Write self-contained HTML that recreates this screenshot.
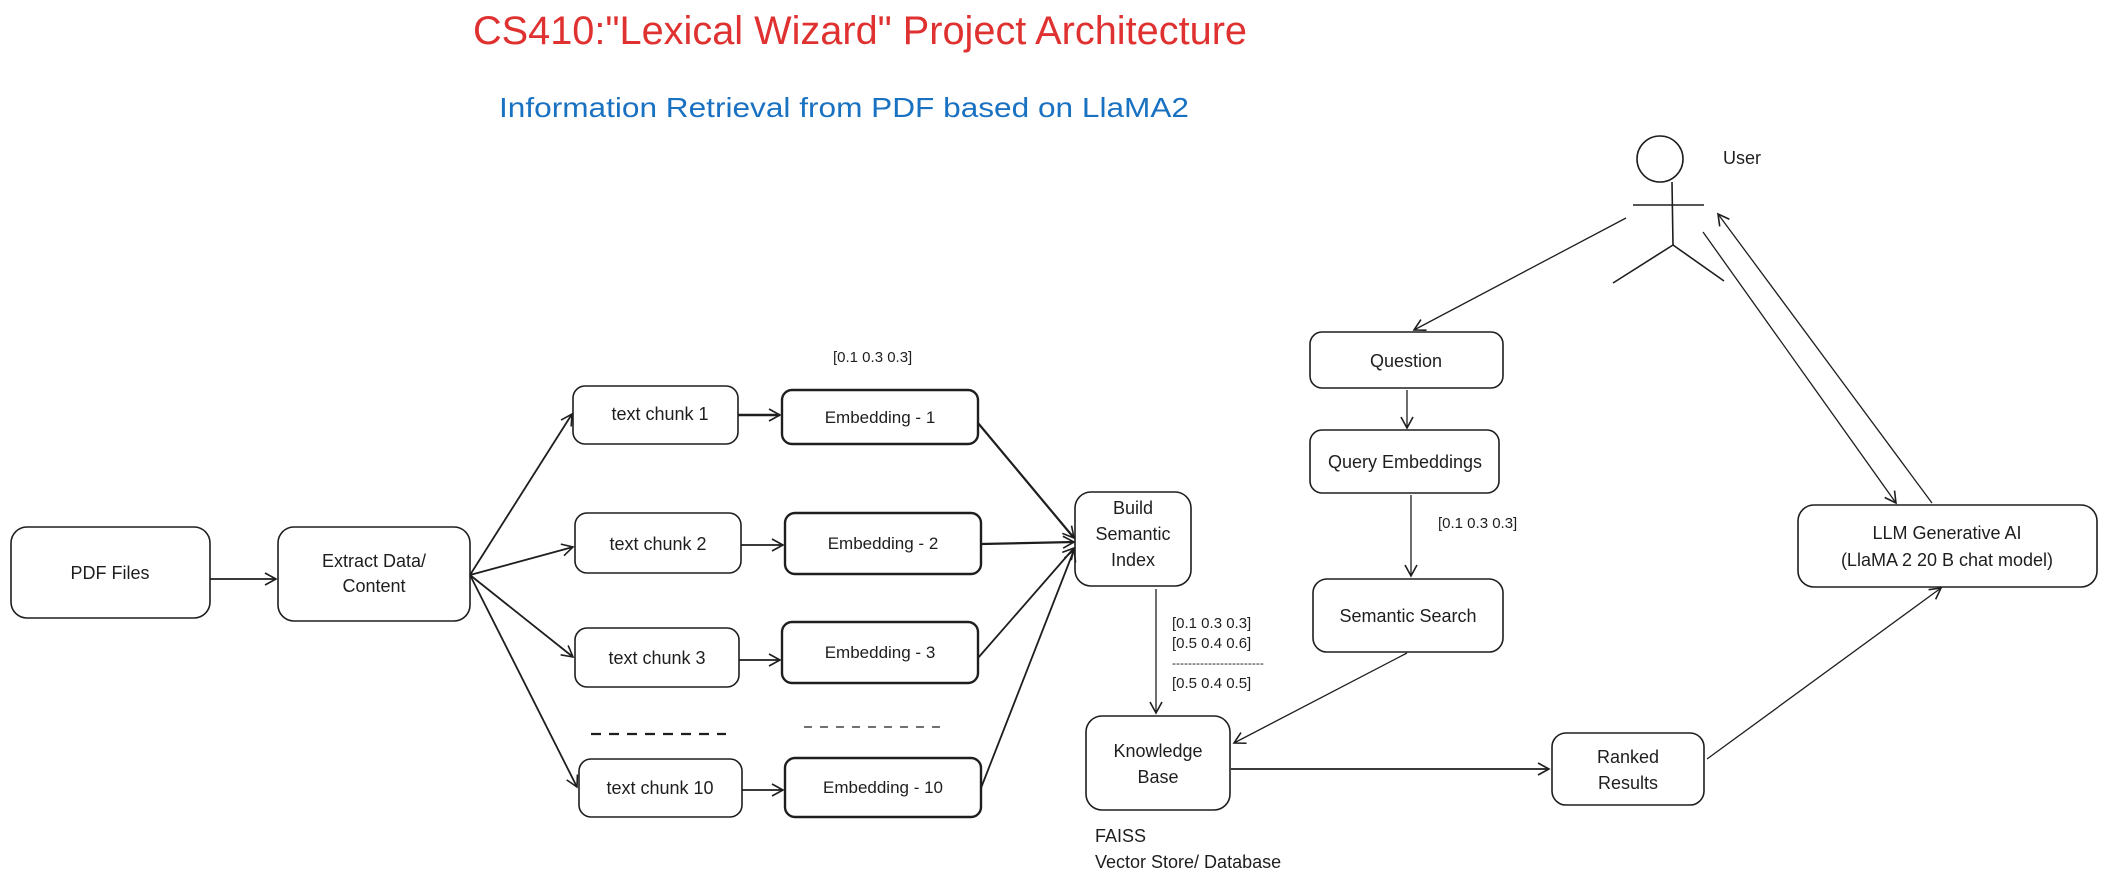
<!DOCTYPE html>
<html><head><meta charset="utf-8"><style>
html,body{margin:0;padding:0;background:#fff;}
svg{display:block;}
text{font-family:"Liberation Sans","DejaVu Sans",sans-serif;fill:#1e1e1e;}
</style></head><body>
<svg width="2108" height="884" viewBox="0 0 2108 884" xmlns="http://www.w3.org/2000/svg">
<defs>
<marker id="a" markerWidth="14" markerHeight="14" refX="12" refY="7" orient="auto" markerUnits="userSpaceOnUse">
<path d="M1,1 L12,7 L1,13" fill="none" stroke="#1e1e1e" stroke-width="1.6"/>
</marker>
</defs>
<text x="860" y="44" font-size="40" text-anchor="middle" textLength="774" lengthAdjust="spacingAndGlyphs" style="fill:#e03131">CS410:"Lexical Wizard" Project Architecture</text>
<text x="844" y="117" font-size="28" text-anchor="middle" textLength="690" lengthAdjust="spacingAndGlyphs" style="fill:#1971c2">Information Retrieval from PDF based on LlaMA2</text>

<g fill="none" stroke="#1e1e1e" stroke-width="1.6">
<rect x="11" y="527" width="199" height="91" rx="16"/>
<rect x="278" y="527" width="192" height="94" rx="16"/>
<rect x="573" y="386" width="165" height="58" rx="12"/>
<rect x="575" y="513" width="166" height="60" rx="12"/>
<rect x="575" y="628" width="164" height="59" rx="12"/>
<rect x="579" y="759" width="163" height="58" rx="12"/>
<g stroke-width="2.4">
<rect x="782" y="390" width="196" height="54" rx="10"/>
<rect x="785" y="513" width="196" height="61" rx="10"/>
<rect x="782" y="622" width="196" height="61" rx="10"/>
<rect x="785" y="758" width="196" height="59" rx="10"/>
</g>
<rect x="1075" y="492" width="116" height="94" rx="16"/>
<rect x="1086" y="716" width="144" height="94" rx="16"/>
<rect x="1310" y="332" width="193" height="56" rx="12"/>
<rect x="1310" y="430" width="189" height="63" rx="12"/>
<rect x="1313" y="579" width="190" height="73" rx="14"/>
<rect x="1552" y="733" width="152" height="72" rx="14"/>
<rect x="1798" y="505" width="299" height="82" rx="16"/>
<circle cx="1660" cy="159" r="23"/>
<line x1="1672" y1="182" x2="1673" y2="245"/>
<line x1="1633" y1="205" x2="1704" y2="205"/>
<line x1="1673" y1="245" x2="1613" y2="283"/>
<line x1="1673" y1="245" x2="1724" y2="281"/>
</g>

<g fill="none" stroke="#1e1e1e" stroke-width="1.8" marker-end="url(#a)">
<line x1="210" y1="579" x2="276" y2="579"/>
<line x1="470" y1="575" x2="572" y2="414"/>
<line x1="470" y1="575" x2="573" y2="547"/>
<line x1="470" y1="575" x2="573" y2="657"/>
<line x1="470" y1="575" x2="577" y2="787"/>
<line x1="738" y1="415" x2="780" y2="415" stroke-width="2.4"/>
<line x1="741" y1="545" x2="783" y2="545"/>
<line x1="739" y1="660" x2="780" y2="660"/>
<line x1="742" y1="790" x2="783" y2="790"/>
<line x1="978" y1="423" x2="1074" y2="538" stroke-width="2.2"/>
<line x1="981" y1="544" x2="1074" y2="542" stroke-width="2.2"/>
<line x1="978" y1="658" x2="1074" y2="548"/>
<line x1="981" y1="788" x2="1074" y2="550"/>
<line x1="1156" y1="589" x2="1156" y2="713" stroke-width="1.3"/>
<line x1="1626" y1="218" x2="1414" y2="330" stroke-width="1.3"/>
<line x1="1407" y1="390" x2="1407" y2="428" stroke-width="1.3"/>
<line x1="1411" y1="495" x2="1411" y2="576" stroke-width="1.3"/>
<line x1="1407" y1="653" x2="1234" y2="743" stroke-width="1.3"/>
<line x1="1231" y1="769" x2="1549" y2="769"/>
<line x1="1707" y1="759" x2="1941" y2="588" stroke-width="1.3"/>
<line x1="1703" y1="232" x2="1896" y2="503" stroke-width="1.3"/>
<line x1="1932" y1="503" x2="1718" y2="214" stroke-width="1.3"/>
</g>
<g stroke="#1e1e1e" stroke-width="2.2" stroke-dasharray="10,8">
<line x1="591" y1="734" x2="726" y2="734"/>
</g>
<g stroke="#1e1e1e" stroke-width="1.2" stroke-dasharray="8,8">
<line x1="804" y1="727" x2="948" y2="727"/>
</g>

<g font-size="18" text-anchor="middle">
<text x="110" y="579">PDF Files</text>
<text x="374" y="567">Extract Data/</text>
<text x="374" y="592">Content</text>
<text x="660" y="420">text chunk 1</text>
<text x="658" y="550">text chunk 2</text>
<text x="657" y="664">text chunk 3</text>
<text x="660" y="794">text chunk 10</text>
<text x="880" y="423" font-size="17">Embedding - 1</text>
<text x="883" y="549" font-size="17">Embedding - 2</text>
<text x="880" y="658" font-size="17">Embedding - 3</text>
<text x="883" y="793" font-size="17">Embedding - 10</text>
<text x="1133" y="514">Build</text>
<text x="1133" y="540">Semantic</text>
<text x="1133" y="566">Index</text>
<text x="1158" y="757">Knowledge</text>
<text x="1158" y="783">Base</text>
<text x="1406" y="367">Question</text>
<text x="1405" y="468">Query Embeddings</text>
<text x="1408" y="622">Semantic Search</text>
<text x="1628" y="763">Ranked</text>
<text x="1628" y="789">Results</text>
<text x="1947" y="539">LLM Generative AI</text>
<text x="1947" y="566">(LlaMA 2 20 B chat model)</text>
</g>
<g font-size="15">
<text x="833" y="362">[0.1 0.3 0.3]</text>
<text x="1438" y="528">[0.1 0.3 0.3]</text>
<text x="1172" y="628">[0.1 0.3 0.3]</text>
<text x="1172" y="648">[0.5 0.4 0.6]</text>
<text x="1172" y="667" font-size="12">-----------------------</text>
<text x="1172" y="688">[0.5 0.4 0.5]</text>
</g>
<text x="1723" y="164" font-size="18">User</text>
<text x="1095" y="842" font-size="18">FAISS</text>
<text x="1095" y="868" font-size="18">Vector Store/ Database</text>
</svg>
</body></html>
